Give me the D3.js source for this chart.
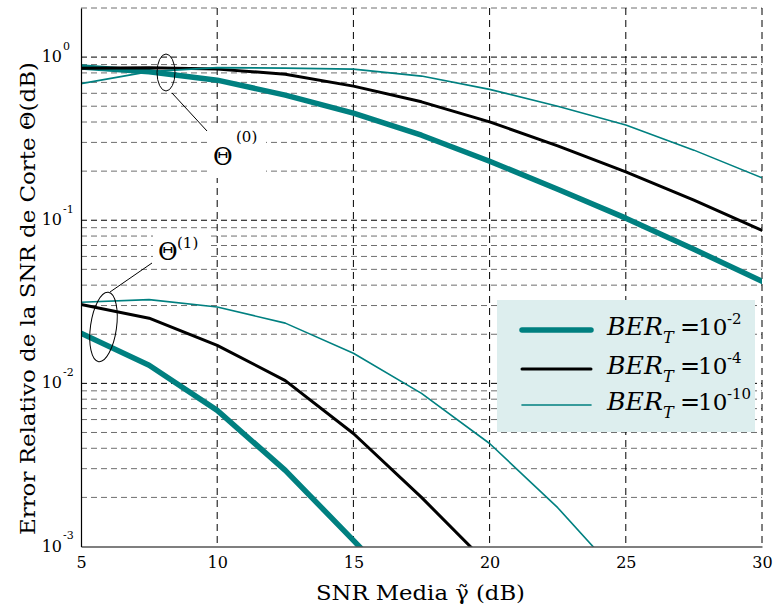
<!DOCTYPE html>
<html><head><meta charset="utf-8">
<script src="https://cdn.jsdelivr.net/npm/d3@7"></script>
<style>
body{margin:0;background:#fff}
svg{display:block}
text{font-family:"DejaVu Serif",serif;fill:#000}
</style>
</head><body>
<svg id="c" width="773" height="612"></svg>
<script>
// ---- data ----
const snr = [5, 7.5, 10, 12.5, 15, 17.5, 20, 22.5, 25, 27.5, 30];
const theta0_ber2  = [0.870, 0.813, 0.722, 0.585, 0.453, 0.332, 0.230, 0.155, 0.103, 0.0664, 0.0422];
const theta0_ber4  = [0.855, 0.860, 0.844, 0.786, 0.664, 0.532, 0.401, 0.286, 0.198, 0.133, 0.0868];
const theta0_ber10 = [0.688, 0.815, 0.862, 0.856, 0.844, 0.765, 0.634, 0.500, 0.383, 0.269, 0.182];
const theta1_ber2  = [0.0203, 0.0129, 0.00683, 0.00293, 0.00109, 0.0004];
const theta1_ber4  = [0.0305, 0.0251, 0.0171, 0.0104, 0.00493, 0.0020, 0.00076];
const theta1_ber10 = [0.0314, 0.0326, 0.0294, 0.0234, 0.0153, 0.00868, 0.00428, 0.00173, 0.0006];
const xTicks = [5, 10, 15, 20, 25, 30];
const yMajor = [1e-3, 1e-2, 1e-1, 1];
const yExp = ["-3", "-2", "-1", "0"];
const legendLabels = [["BER", "T", "10", "-2"], ["BER", "T", "10", "-4"], ["BER", "T", "10", "-10"]];

const teal = "#008080";
const styles = [
  {color: teal, width: 5.5},
  {color: "#000", width: 3},
  {color: teal, width: 1.6}
];
const series = [
  {vals: theta0_ber2, s: 0}, {vals: theta0_ber4, s: 1}, {vals: theta0_ber10, s: 2},
  {vals: theta1_ber2, s: 0}, {vals: theta1_ber4, s: 1}, {vals: theta1_ber10, s: 2}
];

const svg = d3.select("#c");
const L = 81, R = 762, T = 8, B = 546.5;
const x = d3.scaleLinear().domain([5, 30]).range([L, R]);
const y = d3.scaleLog().domain([1e-3, 2]).range([B, T]);

// ---- grid ----
const minor = [];
for (let e = -3; e <= 0; e++) for (let k = 2; k <= 9; k++) { const v = k * Math.pow(10, e); if (v <= 2.0001) minor.push(v); }
const grid = svg.append("g");
grid.selectAll("line.mn").data(minor).join("line")
  .attr("x1", L).attr("x2", R).attr("y1", d => y(d)).attr("y2", d => y(d))
  .attr("stroke", "#6e6e6e").attr("stroke-width", 1).attr("stroke-dasharray", "6,4");
grid.selectAll("line.mj").data(yMajor.slice(1)).join("line")
  .attr("x1", L).attr("x2", R).attr("y1", d => y(d)).attr("y2", d => y(d))
  .attr("stroke", "#000").attr("stroke-width", 1).attr("stroke-dasharray", "6,4");
grid.selectAll("line.v").data(xTicks.slice(1)).join("line")
  .attr("x1", d => x(d)).attr("x2", d => x(d)).attr("y1", T).attr("y2", B)
  .attr("stroke", "#000").attr("stroke-width", 1).attr("stroke-dasharray", "7,5");

// ---- label backgrounds ----
svg.append("rect").attr("x", 208).attr("y", 128).attr("width", 58).attr("height", 50).attr("fill", "#fff");
svg.append("rect").attr("x", 153).attr("y", 230).attr("width", 57).attr("height", 32).attr("fill", "#fff");

// ---- curves ----
svg.append("clipPath").attr("id", "clip").append("rect")
  .attr("x", L).attr("y", T).attr("width", R - L).attr("height", B - T);
const line = d3.line().x(d => x(d[0])).y(d => y(d[1]));
svg.append("g").attr("clip-path", "url(#clip)").selectAll("path").data(series).join("path")
  .attr("d", d => line(d.vals.map((v, i) => [snr[i], v])))
  .attr("fill", "none")
  .attr("stroke", d => styles[d.s].color)
  .attr("stroke-width", d => styles[d.s].width)
  .attr("stroke-linejoin", "round").attr("stroke-linecap", "round");

// ---- axes ----
const gx = svg.append("g").attr("transform", `translate(0,${B})`)
  .call(d3.axisBottom(x).tickValues(xTicks).tickSize(0).tickSizeOuter(0).tickPadding(10));
gx.select(".domain").attr("stroke", "#000").attr("stroke-width", 1.2);
gx.selectAll("text").attr("font-size", 16);

const gy = svg.append("g").attr("transform", `translate(${L},0)`)
  .call(d3.axisLeft(y).tickValues(yMajor).tickSize(0).tickSizeOuter(0).tickFormat(() => ""));
gy.select(".domain").attr("stroke", "#000").attr("stroke-width", 1.2);
gy.selectAll(".tick").each(function(d, i) {
  const g = d3.select(this);
  g.select("text").remove();
  g.append("text").attr("x", -19).attr("y", 4.5).attr("text-anchor", "end")
    .attr("font-size", 16).attr("fill", "#000").text("10");
  g.append("text").attr("x", -18).attr("y", -8).attr("text-anchor", "start")
    .attr("font-size", 11).attr("fill", "#000").text(yExp[i]);
});

// ---- annotations ----
svg.append("ellipse").attr("cx", 166).attr("cy", 72.5).attr("rx", 9).attr("ry", 18.5)
  .attr("fill", "none").attr("stroke", "#000").attr("stroke-width", 1);
svg.append("line").attr("x1", 172).attr("y1", 93).attr("x2", 207).attr("y2", 131)
  .attr("stroke", "#000").attr("stroke-width", 1);
svg.append("text").attr("x", 213).attr("y", 165).attr("font-size", 24).text("Θ");
svg.append("text").attr("x", 236).attr("y", 142).attr("font-size", 15).text("(0)");

svg.append("ellipse").attr("transform", "translate(103.5,327) rotate(8)").attr("rx", 13).attr("ry", 35)
  .attr("fill", "none").attr("stroke", "#000").attr("stroke-width", 1);
svg.append("line").attr("x1", 110).attr("y1", 292).attr("x2", 152).attr("y2", 263)
  .attr("stroke", "#000").attr("stroke-width", 1);
svg.append("text").attr("x", 158).attr("y", 260).attr("font-size", 24).text("Θ");
svg.append("text").attr("x", 177).attr("y", 248).attr("font-size", 15).text("(1)");

// ---- legend ----
const lg = svg.append("g");
lg.append("rect").attr("x", 497).attr("y", 300).attr("width", 258).attr("height", 132).attr("fill", "#ddeeee");
const rowsY = [330, 369, 405];
legendLabels.forEach((lab, i) => {
  const ly = rowsY[i];
  lg.append("line").attr("x1", 522).attr("x2", 591).attr("y1", ly).attr("y2", ly)
    .attr("stroke", styles[i].color).attr("stroke-width", styles[i].width).attr("stroke-linecap", "round");
  const by = ly + 5;
  lg.append("text").attr("x", 607).attr("y", by).attr("font-size", 24).attr("font-style", "italic")
    .attr("textLength", 56).attr("lengthAdjust", "spacingAndGlyphs").text(lab[0]);
  lg.append("text").attr("x", 663).attr("y", by + 8).attr("font-size", 16).attr("font-style", "italic").text(lab[1]);
  lg.append("text").attr("x", 680).attr("y", by).attr("font-size", 24).text("=");
  lg.append("text").attr("x", 698).attr("y", by).attr("font-size", 23).text(lab[2]);
  lg.append("text").attr("x", 727).attr("y", by - 11).attr("font-size", 15).text(lab[3]);
});

// ---- axis titles ----
svg.append("text").attr("x", 420.5).attr("y", 600).attr("text-anchor", "middle")
  .attr("font-size", 21).attr("textLength", 209).attr("lengthAdjust", "spacingAndGlyphs")
  .text("SNR Media γ\u0303 (dB)");
svg.append("text").attr("transform", "translate(35,298.5) rotate(-90)").attr("text-anchor", "middle")
  .attr("font-size", 21).attr("textLength", 473).attr("lengthAdjust", "spacingAndGlyphs")
  .text("Error Relativo de la SNR de Corte Θ(dB)");
</script>
</body></html>
